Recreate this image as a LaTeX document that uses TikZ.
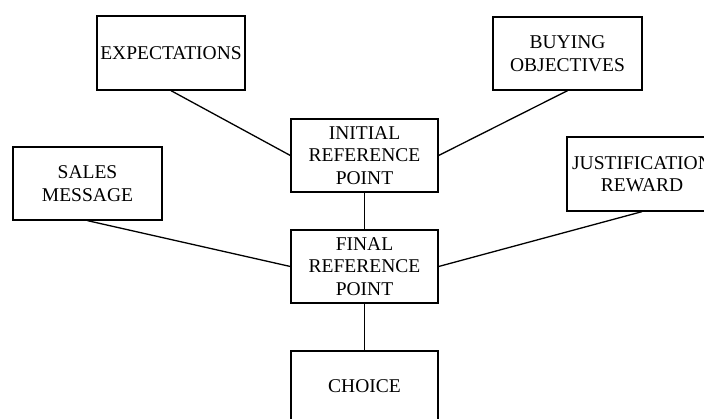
\documentclass[tikz,border=0pt]{standalone}
\usepackage{fontspec}
\setmainfont{Liberation Serif}
\begin{document}
\begin{tikzpicture}[x=1pt,y=-1pt,
  box/.style={draw=black, line width=1.3pt, fill=white, inner sep=0pt,
    align=center, font=\fontsize{19.5}{22.5}\selectfont},
  link/.style={draw=black, line width=1.3pt}]
  \clip (0,0) rectangle (704,419);
  \fill[white] (0,0) rectangle (704,419);

  % factor boxes
  \node[box, minimum width=148pt, minimum height=74pt] (exp) at (171,53) {EXPECTATIONS};
  \node[box, minimum width=149pt, minimum height=73pt] (buy) at (567.5,53.5) {BUYING\\OBJECTIVES};
  \node[box, minimum width=149pt, minimum height=73pt] (sales) at (87.5,183.5) {SALES\\MESSAGE};
  \node[box, minimum width=150pt, minimum height=74pt] (just) at (642,174) {JUSTIFICATION\\REWARD};

  % reference chain
  \node[box, minimum width=147pt, minimum height=73pt] (init) at (364.5,155.5) {INITIAL\\REFERENCE\\POINT};
  \node[box, minimum width=147pt, minimum height=73pt] (final) at (364.5,266.5) {FINAL\\REFERENCE\\POINT};
  \node[box, minimum width=147pt, minimum height=71pt] (choice) at (364.5,386.5) {CHOICE};

  % connectors
  \draw[link] (exp.south) -- (init.west);
  \draw[link] (buy.south) -- (init.east);
  \draw[link] (sales.south) -- (final.west);
  \draw[link] (just.south) -- (final.east);
  \draw[link] (init.south) -- (final.north);
  \draw[link] (final.south) -- (choice.north);
\end{tikzpicture}
\end{document}
